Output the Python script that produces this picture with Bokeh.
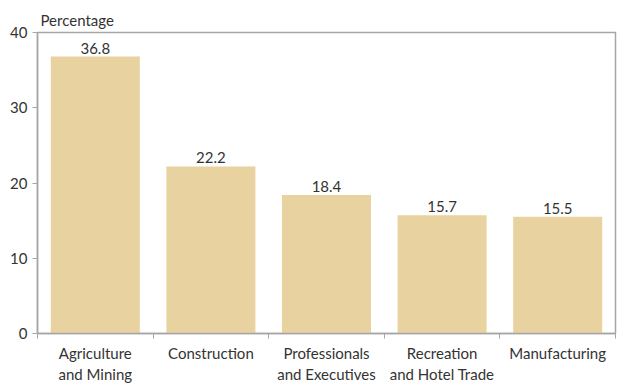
from bokeh.plotting import figure
from bokeh.models import Range1d, FixedTicker, ColumnDataSource, LabelSet
from bokeh.core.properties import value
from bokeh.embed import file_html
from bokeh.resources import INLINE

categories = ["Agriculture\nand Mining", "Construction", "Professionals\nand Executives",
              "Recreation\nand Hotel Trade", "Manufacturing"]
values = [36.8, 22.2, 18.4, 15.7, 15.5]
y_ticks = [0, 10, 20, 30, 40]
y_title = "Percentage"

FONT = "Lato"
TXT = "#333333"
GRID = "#A6A6A6"

xs = list(range(len(categories)))
src = ColumnDataSource(dict(x=xs, top=values, lab=[f"{v:.1f}" for v in values]))

p = figure(width=619, height=386, output_backend="svg", toolbar_location=None,
           x_range=Range1d(-0.5, len(categories) - 0.5), y_range=Range1d(0, 40),
           min_border_left=37, min_border_right=4, min_border_top=32, min_border_bottom=40,
           title=y_title)
p.title.text_font = FONT
p.title.text_font_size = "15px"
p.title.text_font_style = "normal"
p.title.text_color = TXT
p.title.offset = 3
p.title.standoff = 8

p.vbar(x="x", top="top", width=0.77, source=src, fill_color="#E8D2A0", line_color=None)
p.add_layout(LabelSet(x="x", y="top", text="lab", source=src, text_align="center",
                      text_baseline="bottom", y_offset=3, text_font=value(FONT),
                      text_font_size=value("15px"), text_color=TXT))

p.xgrid.visible = False
p.ygrid.visible = False
p.outline_line_color = GRID
p.outline_line_width = 1.5

xa = p.xaxis[0]
xa.ticker = FixedTicker(ticks=xs, minor_ticks=[i - 0.5 for i in range(len(categories) + 1)])
xa.major_label_overrides = {i: c for i, c in enumerate(categories)}
xa.major_tick_out = 0
xa.major_tick_in = 0
xa.minor_tick_out = 5
xa.minor_tick_in = 0
xa.minor_tick_line_color = GRID
xa.axis_line_color = GRID
xa.axis_line_width = 1.5
xa.major_label_text_font = FONT
xa.major_label_text_font_size = "15px"
xa.major_label_text_color = TXT
xa.major_label_standoff = 5

ya = p.yaxis[0]
ya.ticker = FixedTicker(ticks=y_ticks)
ya.minor_tick_line_color = None
ya.major_tick_out = 5
ya.major_tick_in = 0
ya.major_tick_line_color = GRID
ya.axis_line_color = GRID
ya.axis_line_width = 1.5
ya.major_label_text_font = FONT
ya.major_label_text_font_size = "15px"
ya.major_label_text_color = TXT
ya.major_label_standoff = 5

open("out.html", "w").write(file_html(p, INLINE))
